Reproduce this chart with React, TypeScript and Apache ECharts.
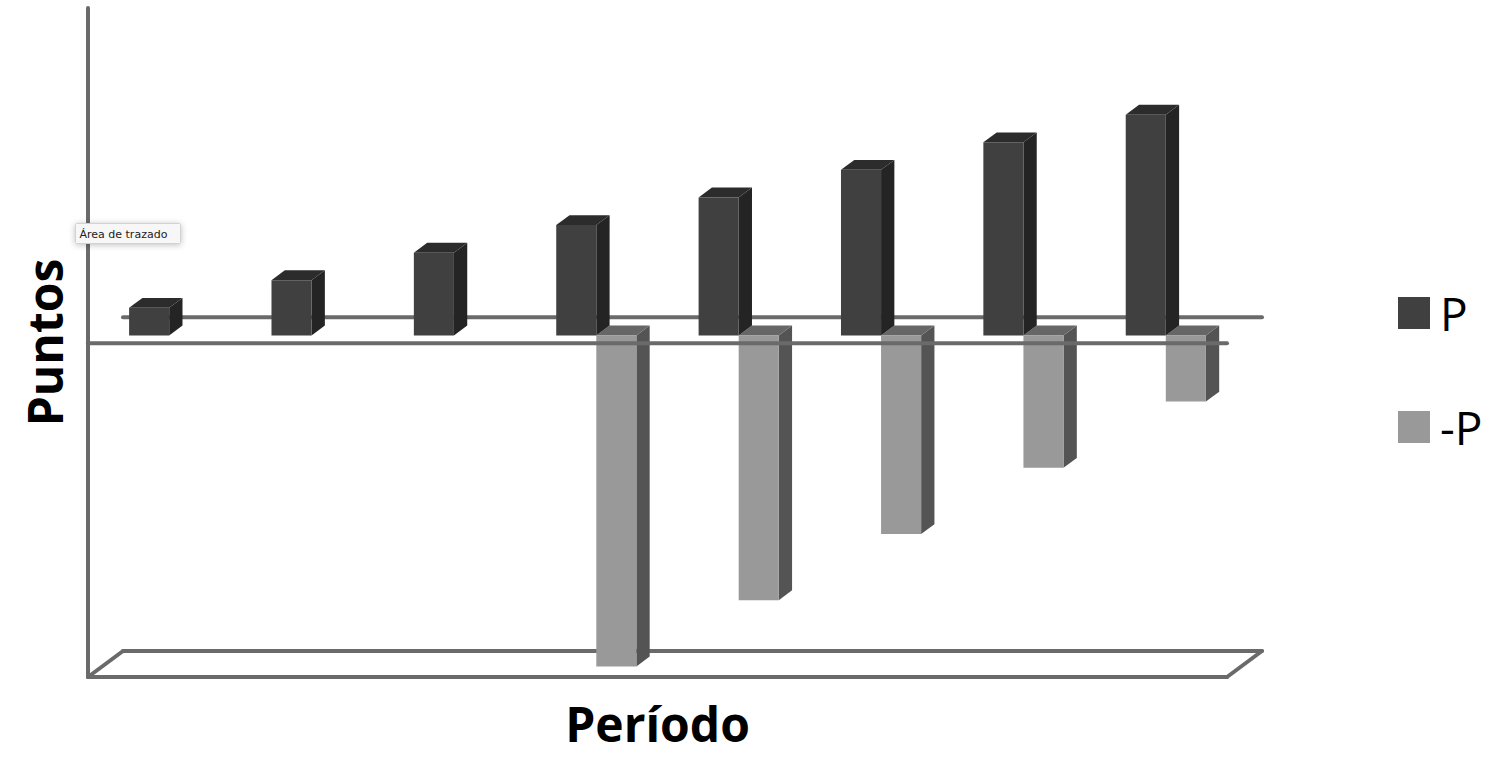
import React, { useEffect, useRef } from "react";
import * as echarts from "echarts";

// ---- data ----
const categories = ["1", "2", "3", "4", "5", "6", "7", "8"];
const pValues = [1, 2, 3, 4, 5, 6, 7, 8];
const negPValues: (number | null)[] = [null, null, null, -12, -9.6, -7.2, -4.8, -2.4];
const seriesNames = ["P", "-P"];
const axisTitleX = "Período";
const axisTitleY = "Puntos";
const plotAreaLabel = "Área de trazado";
const yMin = -12.1;
const yMax = 12.15;

// ---- styles ----
const LINE = "#6a6a6a";
const DX = 35; // depth projection (px) for full depth
const DY = 26;
const BAR_DEPTH_POS = 0.3; // bars' front-face depth
const BAR_THICK = 0.38; // bars' thickness in depth units
const P_COLORS = { front: "#404040", top: "#2c2c2c", side: "#242424" };
const N_COLORS = { front: "#999999", top: "#666666", side: "#545454" };

function makeBarRenderer(colors: { front: string; top: string; side: string }, slot: number) {
  return (params: any, api: any) => {
    const idx = api.value(0);
    const val = api.value(1);
    if (val === null || val === undefined || isNaN(val)) return null;
    const bw = api.size([1, 0])[0];
    const s = bw / 142.1;
    const c = api.coord([idx, 0]);
    const t = api.coord([idx, val]);
    const sx = BAR_DEPTH_POS * DX;
    const sy = BAR_DEPTH_POS * DY;
    const w = 40 * s;
    const L = c[0] + (slot === 0 ? -40.5 * s : -0.5 * s) + sx;
    const R = L + w;
    const base = c[1] - sy;
    const tip = t[1] - sy;
    const dx = BAR_THICK * DX;
    const dy = BAR_THICK * DY;
    const children: any[] = [];
    if (val >= 0) {
      children.push({
        type: "polygon",
        shape: { points: [[R, tip], [R + dx, tip - dy], [R + dx, base - dy], [R, base]] },
        style: { fill: colors.side },
      });
      children.push({
        type: "polygon",
        shape: { points: [[L, tip], [R, tip], [R + dx, tip - dy], [L + dx, tip - dy]] },
        style: { fill: colors.top },
      });
      children.push({
        type: "rect",
        shape: { x: L, y: tip, width: w, height: base - tip },
        style: { fill: colors.front },
      });
    } else {
      children.push({
        type: "polygon",
        shape: { points: [[R, base], [R + dx, base - dy], [R + dx, tip - dy], [R, tip]] },
        style: { fill: colors.side },
      });
      children.push({
        type: "polygon",
        shape: { points: [[L, base], [R, base], [R + dx, base - dy], [L + dx, base - dy]] },
        style: { fill: colors.top },
      });
      children.push({
        type: "rect",
        shape: { x: L, y: base, width: w, height: tip - base },
        style: { fill: colors.front },
      });
    }
    return { type: "group", children };
  };
}

function makeFrameRenderer(part: "back" | "front") {
  return (params: any, api: any) => {
    const cs = params.coordSys;
    const x0 = cs.x;
    const x1 = cs.x + cs.width;
    const yTop = cs.y;
    const yBot = cs.y + cs.height;
    const z = api.coord([0, 0])[1];
    const st = { stroke: LINE, lineWidth: 4, lineCap: "round" };
    const ln = (a: number, b: number, c: number, d: number) => ({
      type: "line",
      shape: { x1: a, y1: b, x2: c, y2: d },
      style: st,
    });
    const children =
      part === "back"
        ? [
            ln(x0 + DX, z - DY, x1 + DX, z - DY),
            ln(x0 + DX, yBot - DY, x1 + DX, yBot - DY),
            ln(x0, yBot, x0 + DX, yBot - DY),
            ln(x1, yBot, x1 + DX, yBot - DY),
            ln(x0, yBot, x1, yBot),
            ln(x0, yTop, x0, yBot),
          ]
        : [ln(x0, z, x1, z)];
    return { type: "group", children };
  };
}

export default function App() {
  const ref = useRef<HTMLDivElement>(null);
  useEffect(() => {
    if (!ref.current) return;
    const chart = echarts.init(ref.current, null, { renderer: "svg" });
    chart.setOption({
      animation: false,
      backgroundColor: "#ffffff",
      grid: { left: 88, right: 268, top: 8, bottom: 91, containLabel: false, outerBoundsMode: "none" },
      legend: {
        data: seriesNames,
        orient: "vertical",
        left: 1398,
        top: 290,
        icon: "rect",
        itemWidth: 32,
        itemHeight: 32,
        itemGap: 68,
        padding: 0,
        textStyle: { fontSize: 46, fontFamily: "Open Sans", color: "#000", padding: [0, 0, 0, 5] },
        selectedMode: false,
      },
      xAxis: {
        type: "category",
        data: categories,
        name: axisTitleX,
        nameLocation: "middle",
        nameGap: 22,
        nameTextStyle: { fontSize: 48, fontWeight: "bold", fontFamily: "Open Sans", color: "#000" },
        axisLine: { show: false },
        axisTick: { show: false },
        axisLabel: { show: false },
        splitLine: { show: false },
      },
      yAxis: {
        type: "value",
        min: yMin,
        max: yMax,
        name: axisTitleY,
        nameLocation: "middle",
        nameRotate: 90,
        nameGap: 20,
        nameTextStyle: { fontSize: 48, fontWeight: "bold", fontFamily: "Open Sans", color: "#000" },
        axisLine: { show: false },
        axisTick: { show: false },
        axisLabel: { show: false },
        splitLine: { show: false },
      },
      graphic: [
        {
          type: "group",
          left: 75,
          top: 223,
          z: 100,
          children: [
            {
              type: "rect",
              z: 100,
              shape: { x: 0, y: 0, width: 105, height: 20, r: 1 },
              style: {
                fill: "#f7f7f7",
                stroke: "#d2d2d2",
                lineWidth: 1,
                shadowBlur: 6,
                shadowColor: "rgba(0,0,0,0.25)",
                shadowOffsetY: 1,
              },
            },
            {
              type: "text",
              z: 101,
              x: 4,
              y: 11,
              style: {
                text: plotAreaLabel,
                fontSize: 11,
                fontFamily: "DejaVu Sans",
                fill: "#222",
                verticalAlign: "middle",
              },
            },
          ],
        },
      ],
      series: [
        {
          type: "custom",
          name: "frame-back",
          silent: true,
          z: 1,
          renderItem: makeFrameRenderer("back"),
          data: [[0, 0]],
        },
        {
          type: "custom",
          name: seriesNames[1],
          z: 2,
          itemStyle: { color: N_COLORS.front },
          renderItem: makeBarRenderer(N_COLORS, 1),
          data: negPValues.map((v, i) => [i, v === null ? NaN : v]),
        },
        {
          type: "custom",
          name: seriesNames[0],
          z: 3,
          itemStyle: { color: P_COLORS.front },
          renderItem: makeBarRenderer(P_COLORS, 0),
          data: pValues.map((v, i) => [i, v]),
        },
        {
          type: "custom",
          name: "frame-front",
          silent: true,
          z: 4,
          renderItem: makeFrameRenderer("front"),
          data: [[0, 0]],
        },
      ],
    });
    return () => chart.dispose();
  }, []);
  return (
    <div
      ref={ref}
      style={{ position: "fixed", left: 0, top: 0, width: 1495, height: 768, background: "#fff" }}
    />
  );
}
